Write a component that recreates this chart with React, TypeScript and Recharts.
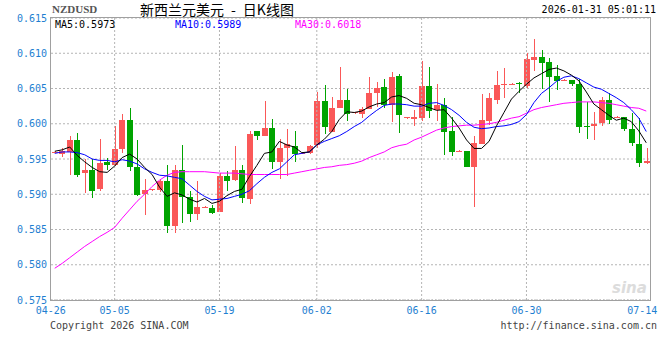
import { Bar, CartesianGrid, ComposedChart, Line, ReferenceLine, XAxis, YAxis } from 'recharts';

const days = [
  '04-26', '04-28', '04-29', '04-30', '05-01', '05-02', '05-03', '05-04', '05-05', '05-06',
  '05-07', '05-08', '05-09', '05-10', '05-11', '05-12', '05-13', '05-14', '05-15', '05-16',
  '05-17', '05-18', '05-19', '05-20', '05-21', '05-22', '05-23', '05-24', '05-26', '05-27',
  '05-28', '05-29', '05-30', '05-31', '06-01', '06-02', '06-03', '06-04', '06-05', '06-06',
  '06-07', '06-08', '06-09', '06-10', '06-11', '06-12', '06-13', '06-14', '06-15', '06-16',
  '06-17', '06-18', '06-19', '06-20', '06-21', '06-22', '06-23', '06-24', '06-25', '06-26',
  '06-27', '06-28', '06-29', '06-30', '07-01', '07-02', '07-03', '07-04', '07-05', '07-06',
  '07-07', '07-08', '07-09', '07-10', '07-11', '07-12', '07-13', '07-14', '07-15', '07-16',
];

const open = [
  0.5959, 0.5957, 0.596, 0.5977, 0.593, 0.5934, 0.5907, 0.5946, 0.5942, 0.5964,
  0.6005, 0.5939, 0.59, 0.5906, 0.5906, 0.5919, 0.5855, 0.5934, 0.5896, 0.5872,
  0.5881, 0.5881, 0.5875, 0.5926, 0.592, 0.5934, 0.5893, 0.599, 0.5983, 0.5994,
  0.5946, 0.5965, 0.5969, 0.5958, 0.5958, 0.597, 0.6032, 0.5989, 0.6023, 0.6034,
  0.6015, 0.6014, 0.6021, 0.6043, 0.6052, 0.6027, 0.6068, 0.6008, 0.6007, 0.6008,
  0.6054, 0.6019, 0.6027, 0.599, 0.5961, 0.5961, 0.5939, 0.5971, 0.6004, 0.6034,
  0.6055, 0.6056, 0.6058, 0.6053, 0.609, 0.6094, 0.6087, 0.6068, 0.6061, 0.6062,
  0.6057, 0.5997, 0.5997, 0.6001, 0.6034, 0.6009, 0.6009, 0.5993, 0.5971, 0.5945,
];
const close = [
  0.596, 0.5961, 0.5977, 0.5927, 0.5934, 0.5904, 0.5944, 0.5941, 0.5964, 0.6005,
  0.5938, 0.5899, 0.5906, 0.5907, 0.5919, 0.5855, 0.5934, 0.5896, 0.5872, 0.5882,
  0.5882, 0.5874, 0.5926, 0.5919, 0.5934, 0.5894, 0.5985, 0.5983, 0.5994, 0.5946,
  0.5966, 0.5971, 0.5957, 0.5959, 0.5968, 0.6032, 0.5996, 0.6023, 0.6033, 0.6014,
  0.6016, 0.6021, 0.6044, 0.605, 0.6027, 0.6066, 0.6012, 0.6009, 0.6009, 0.6054,
  0.6018, 0.6027, 0.5989, 0.596, 0.5962, 0.5939, 0.5972, 0.6005, 0.6036, 0.6055,
  0.6057, 0.6057, 0.6056, 0.6092, 0.6095, 0.6086, 0.6067, 0.6061, 0.6062, 0.6057,
  0.5996, 0.5996, 0.6, 0.6034, 0.6005, 0.601, 0.5992, 0.5972, 0.5945, 0.5947,
];
const high = [
  0.5961, 0.5966, 0.5983, 0.5987, 0.595, 0.595, 0.5978, 0.5952, 0.5997, 0.6014,
  0.6023, 0.5977, 0.5922, 0.5908, 0.5922, 0.5941, 0.5941, 0.597, 0.5904, 0.5919,
  0.5883, 0.5885, 0.593, 0.5933, 0.5968, 0.5941, 0.599, 0.599, 0.6032, 0.6007,
  0.5979, 0.5992, 0.599, 0.596, 0.597, 0.6045, 0.6055, 0.6038, 0.608, 0.605,
  0.6017, 0.6024, 0.6067, 0.6059, 0.6064, 0.6074, 0.6071, 0.601, 0.602, 0.6089,
  0.6081, 0.6057, 0.6036, 0.601, 0.5963, 0.5961, 0.5982, 0.6042, 0.6044, 0.6075,
  0.6079, 0.6058, 0.6059, 0.6101, 0.612, 0.6105, 0.6093, 0.6083, 0.6063, 0.6062,
  0.6064, 0.6031, 0.6016, 0.6038, 0.6044, 0.6011, 0.601, 0.6015, 0.6008, 0.5965,
];
const low = [
  0.5958, 0.5953, 0.5928, 0.5924, 0.5902, 0.5894, 0.5904, 0.5935, 0.594, 0.5959,
  0.5933, 0.5897, 0.5871, 0.5905, 0.5904, 0.5845, 0.5845, 0.586, 0.586, 0.5863,
  0.588, 0.5872, 0.5874, 0.5904, 0.5919, 0.5887, 0.5887, 0.5977, 0.5983, 0.5936,
  0.5922, 0.5926, 0.5946, 0.5957, 0.5957, 0.5965, 0.5986, 0.5989, 0.6023, 0.6005,
  0.6014, 0.6008, 0.6021, 0.6024, 0.6023, 0.6003, 0.5988, 0.6007, 0.5998, 0.6004,
  0.6008, 0.6004, 0.5955, 0.5955, 0.596, 0.5938, 0.5882, 0.5971, 0.5998, 0.6028,
  0.6036, 0.6055, 0.6044, 0.6052, 0.6074, 0.605, 0.6031, 0.6047, 0.606, 0.6054,
  0.5987, 0.5979, 0.5976, 0.5997, 0.6, 0.6008, 0.599, 0.5968, 0.5938, 0.5943,
];

const ma5 = [
  0.5961, 0.5963, 0.5967, 0.5955, 0.5946, 0.5938, 0.5932, 0.5931, 0.594, 0.5952,
  0.5957, 0.595, 0.5938, 0.5928, 0.591, 0.5897, 0.5902, 0.5899, 0.5893, 0.5889,
  0.5894, 0.5887, 0.589, 0.5898, 0.5904, 0.5907, 0.5925, 0.5941, 0.5958, 0.596,
  0.5975, 0.597, 0.5967, 0.5959, 0.596, 0.597, 0.5978, 0.5989, 0.6006, 0.6017,
  0.6016, 0.6018, 0.6024, 0.6028, 0.603, 0.6038, 0.604, 0.6036, 0.6029, 0.6027,
  0.6023, 0.6019, 0.602, 0.6008, 0.5994, 0.5977, 0.5965, 0.5965, 0.5975, 0.5997,
  0.6016, 0.6035, 0.6046, 0.6056, 0.6065, 0.6071, 0.6077, 0.6079, 0.6075, 0.6069,
  0.6061, 0.6045, 0.6028, 0.602, 0.6012, 0.6005, 0.6008, 0.6003, 0.599, 0.5973,
];
const ma10 = [
  0.5958, 0.596, 0.596, 0.5959, 0.5956, 0.595, 0.5948, 0.5948, 0.5946, 0.5949,
  0.5947, 0.5943, 0.5936, 0.5931, 0.5927, 0.5926, 0.5924, 0.5922, 0.5913, 0.5904,
  0.5897, 0.5892, 0.5893, 0.5894, 0.5897, 0.59, 0.5905, 0.5915, 0.5924, 0.5931,
  0.5936, 0.5946, 0.5956, 0.5958, 0.596, 0.597, 0.5975, 0.5979, 0.5983, 0.5989,
  0.5996, 0.6002, 0.6011, 0.6019, 0.6026, 0.6028, 0.6028, 0.6027, 0.6025, 0.6025,
  0.6029, 0.603, 0.6026, 0.602, 0.6012, 0.6002, 0.5995, 0.5993, 0.5994, 0.5996,
  0.5997, 0.5999, 0.6003, 0.6013, 0.603, 0.6043, 0.6051, 0.606, 0.6066, 0.6068,
  0.6064, 0.6058, 0.6052, 0.6049, 0.6043, 0.6037, 0.603, 0.602, 0.6008, 0.5989,
];
const ma30 = [
  0.5795, 0.5802, 0.581, 0.5818, 0.5826, 0.5833, 0.584, 0.5846, 0.5853, 0.5866,
  0.5878, 0.589, 0.59, 0.5911, 0.592, 0.5927, 0.5931, 0.5932, 0.5932, 0.5932,
  0.5932, 0.5931, 0.593, 0.593, 0.593, 0.5929, 0.5928, 0.5928, 0.5928, 0.5928,
  0.5928, 0.5928, 0.593, 0.5932, 0.5934, 0.5936, 0.5938, 0.5939, 0.5941, 0.5942,
  0.5944, 0.5947, 0.5952, 0.5956, 0.596, 0.5966, 0.5969, 0.5971, 0.5977, 0.5981,
  0.5986, 0.5991, 0.5994, 0.5996, 0.5997, 0.5998, 0.5998, 0.5999, 0.6, 0.6002,
  0.6005, 0.6008, 0.601, 0.6015, 0.602, 0.6023, 0.6025, 0.6027, 0.6029, 0.603,
  0.6031, 0.6031, 0.6031, 0.603, 0.6029, 0.6027, 0.6025, 0.6023, 0.6022, 0.6018,
];

const yTicks = [0.575, 0.58, 0.585, 0.59, 0.595, 0.6, 0.605, 0.61, 0.615];
// x labels sit on these candles
const tickAt = [0, 8, 22, 35, 49, 63, 79];
const tickLabels = ['04-26', '05-05', '05-19', '06-02', '06-16', '06-30', '07-14'];

const RED = '#fa5858';
const GREEN = '#00a400';
const BLUE_TXT = '#1f7fd1';
const MONO = '"DejaVu Sans Mono", monospace';

const data = days.map((day, i) => ({
  day,
  open: open[i],
  close: close[i],
  high: high[i],
  low: low[i],
  range: [low[i], high[i]],
  ma5: ma5[i],
  ma10: ma10[i],
  ma30: ma30[i],
}));

const tickDays = tickAt.map((i) => days[i]);

function Candle(props: any) {
  const { x, y, width, height, payload } = props;
  if (x == null || y == null) return null;
  const top = Math.min(y, y + height);
  const h = Math.abs(height);
  const span = payload.high - payload.low || 1;
  const yOf = (v: number) => top + ((payload.high - v) / span) * h;
  const up = payload.close >= payload.open;
  const color = up ? RED : GREEN;
  const cx = Math.round(x + width / 2);
  const bTop = Math.round(yOf(Math.max(payload.open, payload.close)));
  const bBot = Math.round(yOf(Math.min(payload.open, payload.close)));
  return (
    <g>
      <rect x={cx} y={Math.round(top)} width={1} height={Math.max(1, Math.round(h))} fill={color} />
      <rect x={cx - 3} y={bTop} width={6} height={Math.max(1, bBot - bTop)} fill={color} />
    </g>
  );
}

// first and last labels are pulled in a little, as on the sina chart
function DayTick(props: any) {
  const { x, y, payload } = props;
  const k = tickDays.indexOf(payload.value);
  const dx = k === 0 ? -4 : k === tickDays.length - 1 ? -4 : 0;
  return (
    <text x={x + dx} y={y} dy="0.71em" textAnchor="middle" fill={BLUE_TXT} fontSize={10} fontFamily={MONO}>
      {tickLabels[k]}
    </text>
  );
}

export default function App() {
  return (
    <div style={{ position: 'absolute', left: 0, top: 0, width: 660, height: 360, background: '#fff', fontFamily: MONO }}>
      <ComposedChart
        width={660}
        height={360}
        data={data}
        margin={{ top: 18, right: 10, bottom: 40, left: 0 }}
        barCategoryGap={0}
      >
        <CartesianGrid vertical={false} stroke="#b4b4b4" strokeDasharray="2 2" />
        {tickDays.slice(1, -1).map((d) => (
          <ReferenceLine key={d} x={d} stroke="#b4b4b4" strokeDasharray="2 2" />
        ))}
        <XAxis
          dataKey="day"
          ticks={tickDays}
          interval={0}
          axisLine={{ stroke: '#b4b4b4', strokeDasharray: '1 2' }}
          tickLine={false}
          tickSize={0}
          tickMargin={7}
          height={20}
          tick={<DayTick />}
        />
        <YAxis
          domain={[0.575, 0.615]}
          ticks={yTicks}
          allowDataOverflow
          interval={0}
          tickFormatter={(v) => Number(v).toFixed(3)}
          axisLine={false}
          tickLine={false}
          tickSize={0}
          tickMargin={4}
          width={51}
          tick={{ fill: BLUE_TXT, fontSize: 10, fontFamily: MONO }}
        />
        <Bar dataKey="range" barSize={6} shape={Candle} isAnimationActive={false} />
        <Line dataKey="ma30" stroke="#ff00ff" strokeWidth={1} dot={false} isAnimationActive={false} />
        <Line dataKey="ma10" stroke="#0000ff" strokeWidth={1} dot={false} isAnimationActive={false} />
        <Line dataKey="ma5" stroke="#000000" strokeWidth={1} dot={false} isAnimationActive={false} />
      </ComposedChart>

      <div style={{ position: 'absolute', left: 50, top: 17, width: 599, height: 282, border: '1px solid #a0a0a0', pointerEvents: 'none' }} />

      <div style={{ position: 'absolute', left: 52, top: 3, fontSize: 11, color: '#555', fontWeight: 'bold', fontFamily: '"Liberation Serif", serif' }}>NZDUSD</div>
      <div style={{ position: 'absolute', left: 140, top: 2, fontSize: 14, color: '#000', fontFamily: '"Noto Sans CJK SC", sans-serif', lineHeight: '15px', whiteSpace: 'pre' }}>
        {'新西兰元美元\u2002-\u2002日K线图'}
      </div>
      <div style={{ position: 'absolute', right: 4, top: 4, fontSize: 10, color: '#000' }}>2026-01-31 05:01:11</div>

      <div style={{ position: 'absolute', left: 55, top: 19, fontSize: 10, lineHeight: '12px', color: '#000' }}>MA5:0.5973</div>
      <div style={{ position: 'absolute', left: 175, top: 19, fontSize: 10, lineHeight: '12px', color: '#0000ff' }}>MA10:0.5989</div>
      <div style={{ position: 'absolute', left: 295, top: 19, fontSize: 10, lineHeight: '12px', color: '#ff00ff' }}>MA30:0.6018</div>

      <div style={{ position: 'absolute', left: 612, top: 279, fontSize: 15, color: '#dcdcdc', fontStyle: 'italic', fontWeight: 'bold', fontFamily: '"DejaVu Sans", sans-serif' }}>sina</div>

      <div style={{ position: 'absolute', left: 50, top: 320, fontSize: 10, color: '#444' }}>Copyright 2026 SINA.COM</div>
      <div style={{ position: 'absolute', right: 3, top: 320, fontSize: 10, color: '#444' }}>http://finance.sina.com.cn</div>
    </div>
  );
}
